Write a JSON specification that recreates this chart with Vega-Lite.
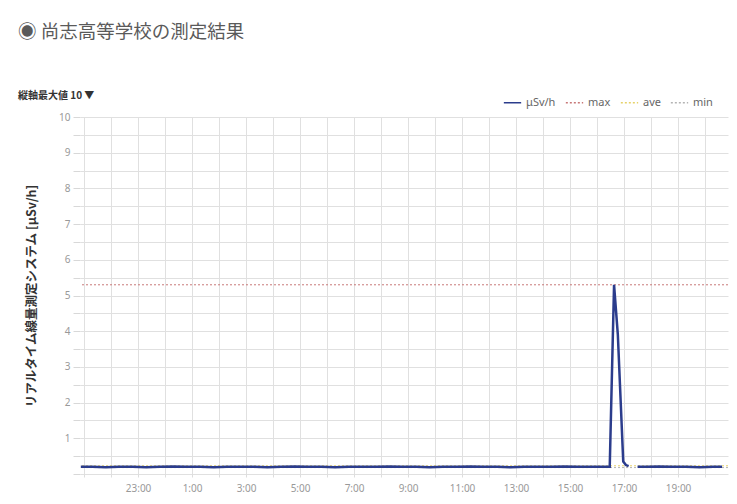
{
  "$schema": "https://vega.github.io/schema/vega-lite/v6.json",
  "width": 648,
  "height": 357,
  "autosize": {"type": "none"},
  "padding": {"left": 80, "top": 117, "right": 9, "bottom": 30},
  "background": "white",
  "title": {
    "text": "◉ 尚志高等学校の測定結果",
    "subtitle": "　縦軸最大値 10 ▼",
    "anchor": "start",
    "frame": "group",
    "dx": -62,
    "offset": -8,
    "font": "Noto Sans CJK JP",
    "fontSize": 18.5,
    "fontWeight": "normal",
    "color": "#5a5a5a",
    "subtitleFont": "Noto Sans CJK JP",
    "subtitleFontSize": 10,
    "subtitleFontWeight": "bold",
    "subtitleColor": "#333333",
    "subtitlePadding": 50
  },
  "datasets": {
    "readings": [
      {"h": -0.12, "v": 0.20, "seg": 1},
      {"h": 0.3, "v": 0.20, "seg": 1},
      {"h": 0.8, "v": 0.19, "seg": 1},
      {"h": 1.3, "v": 0.20, "seg": 1},
      {"h": 1.8, "v": 0.20, "seg": 1},
      {"h": 2.3, "v": 0.19, "seg": 1},
      {"h": 2.8, "v": 0.20, "seg": 1},
      {"h": 3.3, "v": 0.21, "seg": 1},
      {"h": 3.8, "v": 0.20, "seg": 1},
      {"h": 4.3, "v": 0.20, "seg": 1},
      {"h": 4.8, "v": 0.19, "seg": 1},
      {"h": 5.3, "v": 0.20, "seg": 1},
      {"h": 5.8, "v": 0.20, "seg": 1},
      {"h": 6.3, "v": 0.20, "seg": 1},
      {"h": 6.8, "v": 0.19, "seg": 1},
      {"h": 7.3, "v": 0.20, "seg": 1},
      {"h": 7.8, "v": 0.21, "seg": 1},
      {"h": 8.3, "v": 0.20, "seg": 1},
      {"h": 8.8, "v": 0.20, "seg": 1},
      {"h": 9.3, "v": 0.19, "seg": 1},
      {"h": 9.8, "v": 0.20, "seg": 1},
      {"h": 10.3, "v": 0.20, "seg": 1},
      {"h": 10.8, "v": 0.20, "seg": 1},
      {"h": 11.3, "v": 0.21, "seg": 1},
      {"h": 11.8, "v": 0.20, "seg": 1},
      {"h": 12.3, "v": 0.20, "seg": 1},
      {"h": 12.8, "v": 0.19, "seg": 1},
      {"h": 13.3, "v": 0.20, "seg": 1},
      {"h": 13.8, "v": 0.20, "seg": 1},
      {"h": 14.3, "v": 0.21, "seg": 1},
      {"h": 14.8, "v": 0.20, "seg": 1},
      {"h": 15.3, "v": 0.20, "seg": 1},
      {"h": 15.8, "v": 0.19, "seg": 1},
      {"h": 16.3, "v": 0.20, "seg": 1},
      {"h": 16.8, "v": 0.20, "seg": 1},
      {"h": 17.3, "v": 0.20, "seg": 1},
      {"h": 17.8, "v": 0.21, "seg": 1},
      {"h": 18.3, "v": 0.20, "seg": 1},
      {"h": 18.8, "v": 0.20, "seg": 1},
      {"h": 19.3, "v": 0.20, "seg": 1},
      {"h": 19.47, "v": 0.20, "seg": 1},
      {"h": 19.63, "v": 5.3, "seg": 1},
      {"h": 19.77, "v": 3.9, "seg": 1},
      {"h": 19.97, "v": 0.35, "seg": 1},
      {"h": 20.07, "v": 0.25, "seg": 1},
      {"h": 20.17, "v": 0.22, "seg": 1},
      {"h": 20.5, "v": 0.20, "seg": 2},
      {"h": 20.8, "v": 0.20, "seg": 2},
      {"h": 21.3, "v": 0.21, "seg": 2},
      {"h": 21.8, "v": 0.20, "seg": 2},
      {"h": 22.3, "v": 0.20, "seg": 2},
      {"h": 22.8, "v": 0.19, "seg": 2},
      {"h": 23.3, "v": 0.20, "seg": 2},
      {"h": 23.63, "v": 0.20, "seg": 2}
    ],
    "refs": [
      {"series": "μSv/h", "v": null},
      {"series": "max", "v": 5.3},
      {"series": "ave", "v": 0.23},
      {"series": "min", "v": 0.18}
    ]
  },
  "encoding": {
    "y": {
      "field": "v",
      "type": "quantitative",
      "scale": {"domain": [0, 10], "nice": false},
      "axis": {
        "title": "リアルタイム線量測定システム [μSv/h]",
        "values": [0, 0.5, 1, 1.5, 2, 2.5, 3, 3.5, 4, 4.5, 5, 5.5, 6, 6.5, 7, 7.5, 8, 8.5, 9, 9.5, 10],
        "labelExpr": "(datum.value >= 1 && datum.value % 1 == 0) ? format(datum.value, 'd') : ''",
        "labelOverlap": false,
        "labelFlush": false,
        "domain": false,
        "tickSize": 7,
        "tickColor": "#d8d8d8",
        "gridColor": "#e0e0e0",
        "labelPadding": 3,
        "labelColor": "#999999",
        "labelFont": "Noto Sans",
        "labelFontSize": 10,
        "titleFont": "Noto Sans CJK JP",
        "titleFontSize": 12.5,
        "titleFontWeight": "bold",
        "titleColor": "#333333",
        "titlePadding": 20
      }
    }
  },
  "layer": [
    {
      "data": {"name": "refs"},
      "mark": {"type": "rule", "strokeWidth": 1},
      "encoding": {
        "color": {
          "field": "series",
          "type": "nominal",
          "sort": ["μSv/h", "max", "ave", "min"],
          "scale": {"domain": ["μSv/h", "max", "ave", "min"], "range": ["#2b3c8c", "#c87878", "#e6d26a", "#b4b4b4"]}
        },
        "strokeDash": {
          "field": "series",
          "type": "nominal",
          "sort": ["μSv/h", "max", "ave", "min"],
          "scale": {"domain": ["μSv/h", "max", "ave", "min"], "range": [[1, 0], [2, 2], [2, 2], [2, 2]]}
        }
      }
    },
    {
      "data": {"name": "readings"},
      "mark": {"type": "line", "strokeWidth": 2.5, "color": "#2b3c8c"},
      "encoding": {
        "x": {
          "field": "h",
          "type": "quantitative",
          "scale": {"domain": [-0.15, 23.85], "nice": false, "zero": false},
          "axis": {
            "title": null,
            "values": [0, 1, 2, 3, 4, 5, 6, 7, 8, 9, 10, 11, 12, 13, 14, 15, 16, 17, 18, 19, 20, 21, 22, 23],
            "labelExpr": "(datum.value >= 2 && datum.value % 2 == 0) ? ((datum.value + 21) % 24) + ':00' : ''",
            "labelOverlap": false,
            "labelFlush": false,
            "domain": false,
            "tickSize": 3,
            "tickColor": "#dddddd",
            "gridColor": "#e0e0e0",
            "labelPadding": 6,
            "labelColor": "#999999",
            "labelFont": "Noto Sans",
            "labelFontSize": 10
          }
        },
        "detail": {"field": "seg", "type": "nominal"}
      }
    }
  ],
  "config": {
    "view": {"stroke": null},
    "legend": {
      "orient": "none",
      "legendX": 423,
      "legendY": -24,
      "direction": "horizontal",
      "title": null,
      "symbolType": "stroke",
      "symbolSize": 300,
      "symbolStrokeWidth": 1.5,
      "labelFontSize": 11,
      "labelFont": "Noto Sans",
      "labelColor": "#666666",
      "columnPadding": 6,
      "labelOffset": 4
    }
  }
}
